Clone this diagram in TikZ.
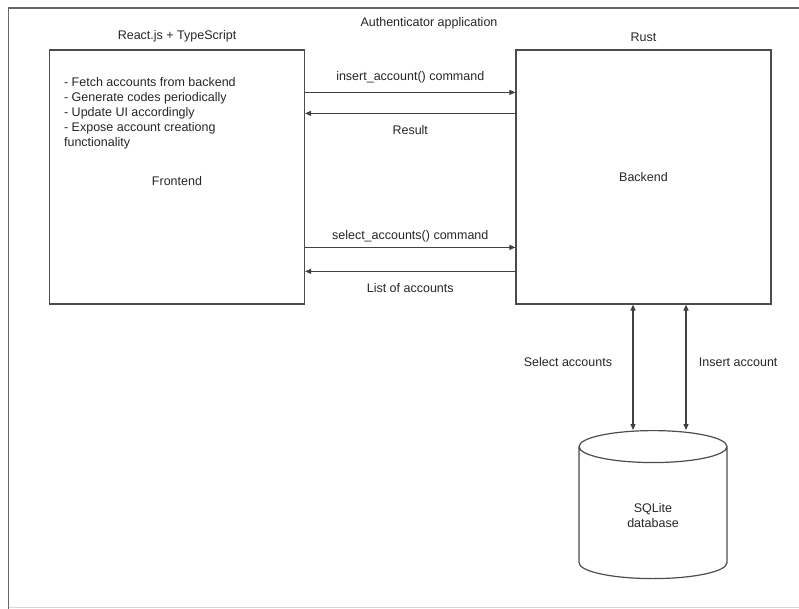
\documentclass[tikz,border=0pt]{standalone}
\usepackage{fontspec}
\setmainfont{Liberation Sans}
\usetikzlibrary{arrows.meta,shapes.geometric}

\begin{document}
\begin{tikzpicture}[x=1pt, y=-1pt,
    every node/.style={font=\fontsize{12.5}{15}\selectfont, text=black!85},
    block/.style={draw=black!70, line width=1.2pt, minimum width=255pt, minimum height=254pt, inner sep=0pt},
    msg/.style={draw=black!75, line width=1.2pt, -{Triangle[length=6pt,width=5pt]}},
    both/.style={msg, {Triangle[length=6pt,width=5pt]}-{Triangle[length=6pt,width=5pt]}},
    store/.style={cylinder, shape border rotate=90, draw=black!70, line width=1.2pt, aspect=0.55,
        minimum width=148pt, minimum height=148pt, align=center}]
    \useasboundingbox (0,0) rectangle (799,609);
    % frame
    \draw[black!60, line width=1.2pt] (799,8) -- (8.5,8) -- (8.5,609);
    \draw[black!15, line width=1pt] (8.5,607.5) -- (799,607.5);

    \node (title) at (429,23) {Authenticator application};
    \node[block, label={[label distance=4pt]above:React.js + TypeScript}] (fe) at (177,177) {};
    \node[block, label={[label distance=4pt]above:Rust}] (be) at (643.5,177) {Backend};
    \node (fename) at ([yshift=-4pt]fe.center) {Frontend};
    \node[anchor=north west, align=left, inner sep=0pt] (tasks) at ([shift={(15pt,-28pt)}]fe.north west)
        {- Fetch accounts from backend\\- Generate codes periodically\\- Update UI accordingly\\- Expose account creationg\\functionality};
    \node[store, anchor=north] (db) at (653,430) {SQLite\\database};

    % frontend <-> backend
    \draw[msg] ([yshift=-43pt]fe.north east) -- node[above=5pt] {insert\_account() command} ([yshift=-43pt]be.north west);
    \draw[msg] ([yshift=-64pt]be.north west) -- node[below=8pt] {Result} ([yshift=-64pt]fe.north east);
    \draw[msg] ([yshift=-198pt]fe.north east) -- node[above=1pt] {select\_accounts() command} ([yshift=-198pt]be.north west);
    \draw[msg] ([yshift=-222pt]be.north west) -- node[below=8pt] {List of accounts} ([yshift=-222pt]fe.north east);

    % backend <-> database
    \draw[both] ([xshift=-10.5pt]be.south) -- node[pos=0.46, left=17pt] {Select accounts} ([xshift=-20pt]db.north);
    \draw[both] ([xshift=42.5pt]be.south) -- node[pos=0.46, right=9pt] {Insert account} ([xshift=33pt]db.north);
\end{tikzpicture}
\end{document}
